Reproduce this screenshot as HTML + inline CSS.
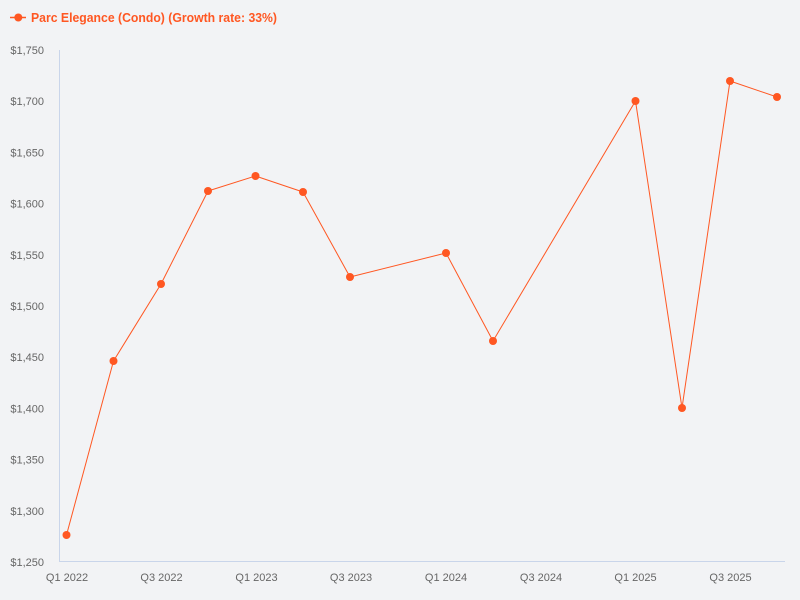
<!DOCTYPE html>
<html>
<head>
<meta charset="utf-8">
<style>
  html,body{margin:0;padding:0;background:#f2f3f5;}
  svg{display:block;}
  text{font-family:"Liberation Sans",sans-serif;}
</style>
</head>
<body>
<svg width="800" height="600" viewBox="0 0 800 600" xmlns="http://www.w3.org/2000/svg">
  <rect x="0" y="0" width="800" height="600" fill="#f2f3f5"/>
  <!-- legend -->
  <line x1="10" y1="17.5" x2="26" y2="17.5" stroke="#ff5722" stroke-width="1.5"/>
  <circle cx="18.3" cy="17.5" r="4" fill="#ff5722"/>
  <text x="31" y="22" font-size="13" font-weight="bold" fill="#ff5722" textLength="246" lengthAdjust="spacingAndGlyphs">Parc Elegance (Condo) (Growth rate: 33%)</text>

  <!-- axes -->
  <line x1="59.5" y1="50" x2="59.5" y2="562" stroke="#c9d5ea" stroke-width="1"/>
  <line x1="59" y1="561.5" x2="785" y2="561.5" stroke="#c9d5ea" stroke-width="1"/>

  <!-- y labels -->
  <g font-size="11" fill="#666" text-anchor="end">
    <text x="44" y="54">$1,750</text>
    <text x="44" y="105.2">$1,700</text>
    <text x="44" y="156.4">$1,650</text>
    <text x="44" y="207.6">$1,600</text>
    <text x="44" y="258.8">$1,550</text>
    <text x="44" y="310">$1,500</text>
    <text x="44" y="361.2">$1,450</text>
    <text x="44" y="412.4">$1,400</text>
    <text x="44" y="463.6">$1,350</text>
    <text x="44" y="514.8">$1,300</text>
    <text x="44" y="566">$1,250</text>
  </g>

  <!-- x labels -->
  <g font-size="11" fill="#666" text-anchor="middle">
    <text x="67" y="581">Q1 2022</text>
    <text x="161.5" y="581">Q3 2022</text>
    <text x="256.5" y="581">Q1 2023</text>
    <text x="351" y="581">Q3 2023</text>
    <text x="446" y="581">Q1 2024</text>
    <text x="541" y="581">Q3 2024</text>
    <text x="635.5" y="581">Q1 2025</text>
    <text x="730.5" y="581">Q3 2025</text>
  </g>

  <!-- series -->
  <polyline fill="none" stroke="#ff5722" stroke-width="1" stroke-linejoin="round"
    points="66.5,535 113.5,361 161,284 208,191 255.5,176 303,192 350,277 446,253 493,341 635.5,101 682,408 730,81 777,97"/>
  <g fill="#ff5722">
    <circle cx="66.5" cy="535" r="4"/>
    <circle cx="113.5" cy="361" r="4"/>
    <circle cx="161" cy="284" r="4"/>
    <circle cx="208" cy="191" r="4"/>
    <circle cx="255.5" cy="176" r="4"/>
    <circle cx="303" cy="192" r="4"/>
    <circle cx="350" cy="277" r="4"/>
    <circle cx="446" cy="253" r="4"/>
    <circle cx="493" cy="341" r="4"/>
    <circle cx="635.5" cy="101" r="4"/>
    <circle cx="682" cy="408" r="4"/>
    <circle cx="730" cy="81" r="4"/>
    <circle cx="777" cy="97" r="4"/>
  </g>
</svg>
</body>
</html>
